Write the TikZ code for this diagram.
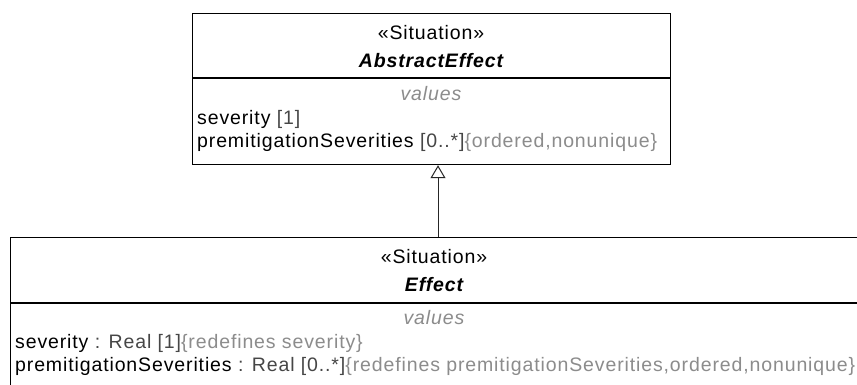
\documentclass[tikz,border=0pt]{standalone}
\usepackage{fontspec}
\setmainfont{Liberation Sans}[LetterSpace=4.5]
\usetikzlibrary{arrows.meta}
\definecolor{attrgray}{RGB}{70,70,70}
\definecolor{lightgray}{RGB}{140,140,140}
\tikzset{
  classbox/.style={draw=black, line width=1.2pt, inner sep=0pt, fill=white},
  divider/.style={draw=black, line width=1.2pt},
  txt/.style={inner sep=0pt, anchor=base, font=\fontsize{19.5}{23}\selectfont},
  cname/.style={txt, font=\fontsize{19.5}{23}\selectfont\bfseries\itshape},
  compartment/.style={txt, text=lightgray, font=\fontsize{19.5}{23}\selectfont\itshape},
  attr/.style={txt, anchor=base west},
  gen/.style={draw=black!85, line width=1pt, -{Triangle[open, length=13pt, width=15pt, fill=white]}}
}
\begin{document}
\begin{tikzpicture}[x=1pt,y=-1pt]
\useasboundingbox (0,0) rectangle (857,384);
\fill[white] (0,0) rectangle (857,384);
\clip (0,0) rectangle (857,384);
% AbstractEffect
\node[classbox, minimum width=478pt, minimum height=151pt, anchor=north west] (abs) at (192,13) {};
\draw[divider] (192,78) -- (670,78);
\node[txt] (absst) at (431,39) {«Situation»};
\node[cname] (absname) at (431,67) {AbstractEffect};
\node[compartment] (absvals) at (431,100) {values};
\node[attr] (absa1) at (197,124) {severity \textcolor{attrgray}{[1]}};
\node[attr] (absa2) at (197,147) {premitigationSeverities \textcolor{attrgray}{[0..*]}\textcolor{lightgray}{\{ordered,nonunique\}}};
% Effect
\node[classbox, minimum width=852pt, minimum height=170pt, anchor=north west] (eff) at (10,237) {};
\draw[divider] (10,303) -- (862,303);
\node[txt] (effst) at (434,263) {«Situation»};
\node[cname] (effname) at (434,291) {Effect};
\node[compartment] (effvals) at (434,324) {values};
\node[attr] (effa1) at (15,348) {severity \textcolor{attrgray}{: Real [1]}\textcolor{lightgray}{\{redefines severity\}}};
\node[attr] (effa2) at (15,371) {premitigationSeverities \textcolor{attrgray}{: Real [0..*]}\textcolor{lightgray}{\{redefines premitigationSeverities,ordered,nonunique\}}};
% generalization
\coordinate (gx) at (438,0);
\draw[gen] (gx |- eff.north) -- (gx |- abs.south);
\end{tikzpicture}
\end{document}
